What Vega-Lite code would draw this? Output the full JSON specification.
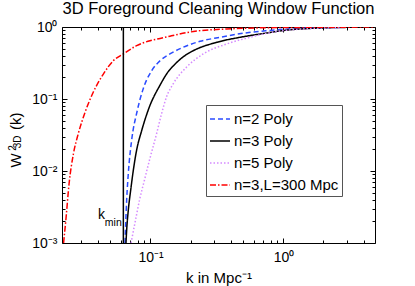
{
  "$schema": "https://vega.github.io/schema/vega-lite/v6.json",
  "width": 313,
  "height": 216,
  "autosize": {"type": "none"},
  "padding": {"left": 62, "top": 27, "right": 40, "bottom": 43},
  "title": {"text": "3D Foreground Cleaning Window Function", "fontSize": 16.5, "fontWeight": "normal", "anchor": "middle", "frame": "group", "baseline": "alphabetic", "offset": -10, "color": "#000"},
  "config": {
    "font": "Liberation Sans",
    "view": {"stroke": "#000", "strokeWidth": 1},
    "axis": {"grid": false, "domain": false, "tickColor": "#000", "tickWidth": 1, "labelColor": "#000", "labelFontSize": 14, "labelFlush": false, "labelOverlap": false, "labelBound": false, "titleColor": "#000", "titleFontWeight": "normal", "titleFontSize": 15},
    "legend": {"symbolType": "stroke", "symbolSize": 400, "symbolStrokeWidth": 1.5, "labelFontSize": 15, "labelColor": "#000", "fillColor": "#fff", "strokeColor": "#555", "padding": 3, "rowPadding": 3, "labelOffset": 3}
  },
  "resolve": {"axis": {"x": "independent", "y": "independent"}},
  "layer": [
    {
      "data": {"values": [
        {"s": "n=2 Poly", "k": 0.0643, "w": 0.001},
        {"s": "n=2 Poly", "k": 0.0651, "w": 0.00188},
        {"s": "n=2 Poly", "k": 0.0662, "w": 0.00396},
        {"s": "n=2 Poly", "k": 0.0681, "w": 0.00929},
        {"s": "n=2 Poly", "k": 0.0722, "w": 0.027},
        {"s": "n=2 Poly", "k": 0.0791, "w": 0.066},
        {"s": "n=2 Poly", "k": 0.0883, "w": 0.14},
        {"s": "n=2 Poly", "k": 0.102, "w": 0.247},
        {"s": "n=2 Poly", "k": 0.118, "w": 0.34},
        {"s": "n=2 Poly", "k": 0.14, "w": 0.422},
        {"s": "n=2 Poly", "k": 0.176, "w": 0.523},
        {"s": "n=2 Poly", "k": 0.236, "w": 0.633},
        {"s": "n=2 Poly", "k": 0.333, "w": 0.719},
        {"s": "n=2 Poly", "k": 0.498, "w": 0.818},
        {"s": "n=2 Poly", "k": 0.748, "w": 0.888},
        {"s": "n=2 Poly", "k": 1.33, "w": 0.959},
        {"s": "n=2 Poly", "k": 2.99, "w": 0.99},
        {"s": "n=3 Poly", "k": 0.0654, "w": 0.001},
        {"s": "n=3 Poly", "k": 0.0662, "w": 0.00152},
        {"s": "n=3 Poly", "k": 0.0681, "w": 0.00287},
        {"s": "n=3 Poly", "k": 0.071, "w": 0.00545},
        {"s": "n=3 Poly", "k": 0.0743, "w": 0.0103},
        {"s": "n=3 Poly", "k": 0.0787, "w": 0.0196},
        {"s": "n=3 Poly", "k": 0.0859, "w": 0.0365},
        {"s": "n=3 Poly", "k": 0.0974, "w": 0.075},
        {"s": "n=3 Poly", "k": 0.118, "w": 0.156},
        {"s": "n=3 Poly", "k": 0.136, "w": 0.24},
        {"s": "n=3 Poly", "k": 0.148, "w": 0.287},
        {"s": "n=3 Poly", "k": 0.1755, "w": 0.383},
        {"s": "n=3 Poly", "k": 0.21, "w": 0.469},
        {"s": "n=3 Poly", "k": 0.315, "w": 0.613},
        {"s": "n=3 Poly", "k": 0.471, "w": 0.719},
        {"s": "n=3 Poly", "k": 0.748, "w": 0.825},
        {"s": "n=3 Poly", "k": 1.03, "w": 0.9},
        {"s": "n=3 Poly", "k": 1.45, "w": 0.947},
        {"s": "n=3 Poly", "k": 3.16, "w": 0.99},
        {"s": "n=5 Poly", "k": 0.0714, "w": 0.001},
        {"s": "n=5 Poly", "k": 0.0772, "w": 0.00209},
        {"s": "n=5 Poly", "k": 0.0827, "w": 0.00396},
        {"s": "n=5 Poly", "k": 0.0901, "w": 0.0075},
        {"s": "n=5 Poly", "k": 0.0983, "w": 0.0142},
        {"s": "n=5 Poly", "k": 0.111, "w": 0.0327},
        {"s": "n=5 Poly", "k": 0.121, "w": 0.0619},
        {"s": "n=5 Poly", "k": 0.132, "w": 0.107},
        {"s": "n=5 Poly", "k": 0.148, "w": 0.162},
        {"s": "n=5 Poly", "k": 0.187, "w": 0.278},
        {"s": "n=5 Poly", "k": 0.249, "w": 0.422},
        {"s": "n=5 Poly", "k": 0.374, "w": 0.581},
        {"s": "n=5 Poly", "k": 0.56, "w": 0.719},
        {"s": "n=5 Poly", "k": 0.765, "w": 0.826},
        {"s": "n=5 Poly", "k": 1.22, "w": 0.923},
        {"s": "n=5 Poly", "k": 2.9, "w": 0.984},
        {"s": "n=3,L=300 Mpc", "k": 0.0222, "w": 0.001},
        {"s": "n=3,L=300 Mpc", "k": 0.0232, "w": 0.0023},
        {"s": "n=3,L=300 Mpc", "k": 0.0244, "w": 0.0066},
        {"s": "n=3,L=300 Mpc", "k": 0.0263, "w": 0.0172},
        {"s": "n=3,L=300 Mpc", "k": 0.0286, "w": 0.0327},
        {"s": "n=3,L=300 Mpc", "k": 0.0322, "w": 0.0654},
        {"s": "n=3,L=300 Mpc", "k": 0.0371, "w": 0.124},
        {"s": "n=3,L=300 Mpc", "k": 0.0442, "w": 0.222},
        {"s": "n=3,L=300 Mpc", "k": 0.0525, "w": 0.34},
        {"s": "n=3,L=300 Mpc", "k": 0.0635, "w": 0.431},
        {"s": "n=3,L=300 Mpc", "k": 0.0787, "w": 0.55},
        {"s": "n=3,L=300 Mpc", "k": 0.0991, "w": 0.645},
        {"s": "n=3,L=300 Mpc", "k": 0.118, "w": 0.692},
        {"s": "n=3,L=300 Mpc", "k": 0.14, "w": 0.745},
        {"s": "n=3,L=300 Mpc", "k": 0.21, "w": 0.866},
        {"s": "n=3,L=300 Mpc", "k": 0.374, "w": 0.938},
        {"s": "n=3,L=300 Mpc", "k": 0.792, "w": 0.978},
        {"s": "n=3,L=300 Mpc", "k": 2.66, "w": 0.994},
        {"s": "n=3,L=300 Mpc", "k": 4.88, "w": 0.998}
      ]},
      "mark": {"type": "line", "strokeWidth": 1.5, "clip": true, "interpolate": "monotone"},
      "encoding": {
        "x": {"field": "k", "type": "quantitative", "scale": {"type": "log", "domain": [0.0216, 4.88], "nice": false},
          "axis": {"orient": "bottom", "values": [0.1, 1], "tickSize": -5, "labelPadding": 12, "labelExpr": "datum.value >= 0.99 ? '10⁰' : '10⁻¹'", "title": "k in Mpc⁻¹", "titlePadding": 6}},
        "y": {"field": "w", "type": "quantitative", "scale": {"type": "log", "domain": [0.001, 1], "nice": false},
          "axis": {"orient": "left", "values": [0.001, 0.01, 0.1, 1], "tickSize": -5, "labelPadding": 10, "labelExpr": "datum.value >= 0.99 ? '10⁰' : datum.value >= 0.099 ? '10⁻¹' : datum.value >= 0.0099 ? '10⁻²' : '10⁻³'", "title": null}},
        "color": {"field": "s", "type": "nominal",
          "scale": {"domain": ["n=2 Poly", "n=3 Poly", "n=5 Poly", "n=3,L=300 Mpc"], "range": ["#2a4bff", "#000000", "#d58bff", "#ff0000"]},
          "legend": {"title": null, "orient": "none", "legendX": 144, "legendY": 78}},
        "strokeDash": {"field": "s", "type": "nominal",
          "scale": {"domain": ["n=2 Poly", "n=3 Poly", "n=5 Poly", "n=3,L=300 Mpc"], "range": [[5, 3], [1, 0], [1.5, 2], [6, 2, 1.5, 2]]},
          "legend": {"title": null, "orient": "none", "legendX": 144, "legendY": 78}}
      }
    },
    {
      "data": {"values": [{"k": 0.0625, "y1": 0.001, "y2": 1}]},
      "mark": {"type": "rule", "color": "#000", "strokeWidth": 1.5},
      "encoding": {
        "x": {"field": "k", "type": "quantitative", "scale": {"type": "log", "domain": [0.0216, 4.88], "nice": false},
          "axis": {"orient": "bottom", "values": [0.03, 0.04, 0.05, 0.06, 0.07, 0.08, 0.09, 0.2, 0.3, 0.4, 0.5, 0.6, 0.7, 0.8, 0.9, 2, 3, 4], "tickSize": -3, "labels": false, "title": null}},
        "y": {"field": "y1", "type": "quantitative", "scale": {"type": "log", "domain": [0.001, 1], "nice": false},
          "axis": {"orient": "left", "values": [0.002, 0.003, 0.004, 0.005, 0.006, 0.007, 0.008, 0.009, 0.02, 0.03, 0.04, 0.05, 0.06, 0.07, 0.08, 0.09, 0.2, 0.3, 0.4, 0.5, 0.6, 0.7, 0.8, 0.9], "tickSize": -3, "labels": false, "title": null}},
        "y2": {"field": "y2"}
      }
    },
    {
      "data": {"values": [{"k": 0.0429, "w": 0.00241, "t": "k"}]},
      "mark": {"type": "text", "fontSize": 14, "align": "center", "baseline": "middle", "color": "#000"},
      "encoding": {
        "x": {"field": "k", "type": "quantitative", "scale": {"type": "log", "domain": [0.0216, 4.88], "nice": false},
          "axis": {"orient": "top", "values": [0.1, 1], "tickSize": -5, "labels": false, "title": null}},
        "y": {"field": "w", "type": "quantitative", "scale": {"type": "log", "domain": [0.001, 1], "nice": false},
          "axis": {"orient": "right", "values": [0.001, 0.01, 0.1, 1], "tickSize": -5, "labels": false, "title": null}},
        "text": {"field": "t"}
      }
    },
    {
      "data": {"values": [{"k": 0.0525, "w": 0.00187, "t": "min"}]},
      "mark": {"type": "text", "fontSize": 10.5, "align": "center", "baseline": "middle", "color": "#000"},
      "encoding": {
        "x": {"field": "k", "type": "quantitative", "scale": {"type": "log", "domain": [0.0216, 4.88], "nice": false},
          "axis": {"orient": "top", "values": [0.03, 0.04, 0.05, 0.06, 0.07, 0.08, 0.09, 0.2, 0.3, 0.4, 0.5, 0.6, 0.7, 0.8, 0.9, 2, 3, 4], "tickSize": -3, "labels": false, "title": null}},
        "y": {"field": "w", "type": "quantitative", "scale": {"type": "log", "domain": [0.001, 1], "nice": false},
          "axis": {"orient": "right", "values": [0.002, 0.003, 0.004, 0.005, 0.006, 0.007, 0.008, 0.009, 0.02, 0.03, 0.04, 0.05, 0.06, 0.07, 0.08, 0.09, 0.2, 0.3, 0.4, 0.5, 0.6, 0.7, 0.8, 0.9], "tickSize": -3, "labels": false, "title": null}},
        "text": {"field": "t"}
      }
    },
    {
      "data": {"values": [{"k": 0.00966, "w": 0.014, "t": "W"}, {"k": 0.00975, "w": 0.049, "t": "(k)"}]},
      "mark": {"type": "text", "fontSize": 15, "angle": 270, "align": "center", "baseline": "middle", "color": "#000"},
      "encoding": {
        "x": {"field": "k", "type": "quantitative", "scale": {"type": "log", "domain": [0.0216, 4.88], "nice": false}, "axis": null},
        "y": {"field": "w", "type": "quantitative", "scale": {"type": "log", "domain": [0.001, 1], "nice": false}, "axis": null},
        "text": {"field": "t"}
      }
    },
    {
      "data": {"values": [{"k": 0.00925, "w": 0.0209, "t": "2"}, {"k": 0.01009, "w": 0.0253, "t": "3D"}]},
      "mark": {"type": "text", "fontSize": 10, "angle": 270, "align": "center", "baseline": "middle", "color": "#000"},
      "encoding": {
        "x": {"field": "k", "type": "quantitative", "scale": {"type": "log", "domain": [0.0216, 4.88], "nice": false}, "axis": null},
        "y": {"field": "w", "type": "quantitative", "scale": {"type": "log", "domain": [0.001, 1], "nice": false}, "axis": null},
        "text": {"field": "t"}
      }
    }
  ]
}
